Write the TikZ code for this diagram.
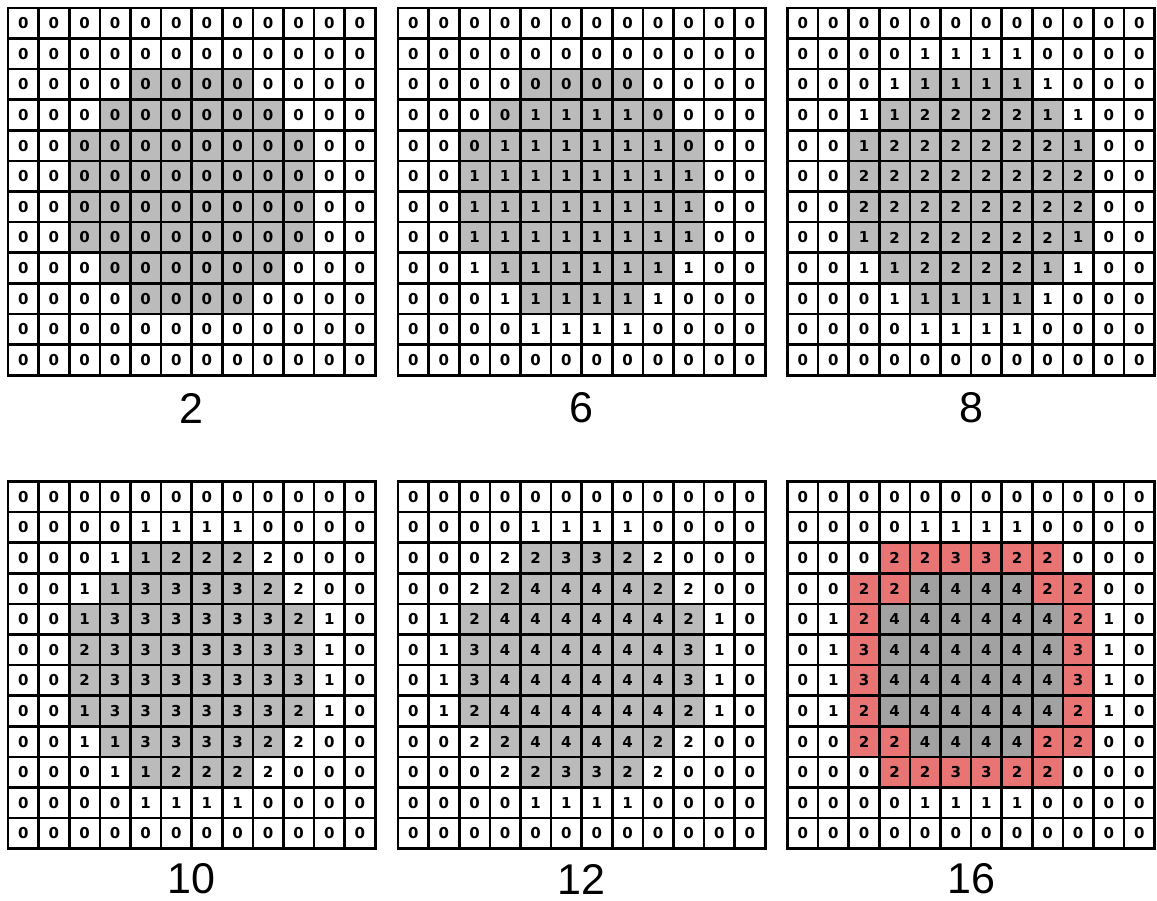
\documentclass[tikz,border=0pt]{standalone}
\usepackage{fontspec}
\setmainfont{Liberation Sans}
\newfontfamily\cellfont{DejaVu Sans}
\definecolor{shade}{HTML}{BBBBBB}
\definecolor{deepshade}{HTML}{A2A2A2}
\definecolor{ring}{HTML}{E87474}

\tikzset{
  cell/.style={draw, line width=2.6pt, minimum size=30.6pt, inner sep=0pt, outer sep=0pt,
    font=\cellfont\bfseries\fontsize{15}{15}\selectfont},
  caption/.style={font=\fontsize{43}{43}\selectfont, inner sep=0pt}
}

% #1 name, #2 x, #3 y, #4 rows, #5 mode (0 = disc mask, 1 = colour by value)
\newcommand{\cellgrid}[5]{%
  \foreach \vals [count=\row from 0] in {#4} {
    \foreach \v [count=\col from 0] in \vals {
      \pgfmathtruncatemacro\lo{{99,99,4,3,2,2,2,2,3,4,99,99}[\row]}
      \pgfmathtruncatemacro\inside{(\col>=\lo)&&(\col<=11-\lo)}
      \ifnum#5=0
        \ifnum\inside=1 \def\cellcol{shade}\else\def\cellcol{white}\fi
      \else
        \ifnum\v=4 \def\cellcol{deepshade}\else
          \ifnum\v>1 \def\cellcol{ring}\else\def\cellcol{white}\fi\fi
      \fi
      \node[cell, fill=\cellcol] (#1-\row-\col) at (#2+30.6*\col+15.3, #3+30.6*\row+15.3) {\v};
    }
  }
}

\begin{document}
\begin{tikzpicture}[x=1pt, y=-1pt]
  \useasboundingbox (0,0) rectangle (1157,901);

  % step 2
  \cellgrid{g1}{8}{8}{
    {0,0,0,0,0,0,0,0,0,0,0,0},
    {0,0,0,0,0,0,0,0,0,0,0,0},
    {0,0,0,0,0,0,0,0,0,0,0,0},
    {0,0,0,0,0,0,0,0,0,0,0,0},
    {0,0,0,0,0,0,0,0,0,0,0,0},
    {0,0,0,0,0,0,0,0,0,0,0,0},
    {0,0,0,0,0,0,0,0,0,0,0,0},
    {0,0,0,0,0,0,0,0,0,0,0,0},
    {0,0,0,0,0,0,0,0,0,0,0,0},
    {0,0,0,0,0,0,0,0,0,0,0,0},
    {0,0,0,0,0,0,0,0,0,0,0,0},
    {0,0,0,0,0,0,0,0,0,0,0,0}}{0}
  \node[caption] (g1-lbl) at (191.6,408) {2};

  % step 6
  \cellgrid{g2}{398}{8}{
    {0,0,0,0,0,0,0,0,0,0,0,0},
    {0,0,0,0,0,0,0,0,0,0,0,0},
    {0,0,0,0,0,0,0,0,0,0,0,0},
    {0,0,0,0,1,1,1,1,0,0,0,0},
    {0,0,0,1,1,1,1,1,1,0,0,0},
    {0,0,1,1,1,1,1,1,1,1,0,0},
    {0,0,1,1,1,1,1,1,1,1,0,0},
    {0,0,1,1,1,1,1,1,1,1,0,0},
    {0,0,1,1,1,1,1,1,1,1,0,0},
    {0,0,0,1,1,1,1,1,1,0,0,0},
    {0,0,0,0,1,1,1,1,0,0,0,0},
    {0,0,0,0,0,0,0,0,0,0,0,0}}{0}
  \node[caption] (g2-lbl) at (581.6,408) {6};

  % step 8
  \cellgrid{g3}{787.5}{8}{
    {0,0,0,0,0,0,0,0,0,0,0,0},
    {0,0,0,0,1,1,1,1,0,0,0,0},
    {0,0,0,1,1,1,1,1,1,0,0,0},
    {0,0,1,1,2,2,2,2,1,1,0,0},
    {0,0,1,2,2,2,2,2,2,1,0,0},
    {0,0,2,2,2,2,2,2,2,2,0,0},
    {0,0,2,2,2,2,2,2,2,2,0,0},
    {0,0,1,2,2,2,2,2,2,1,0,0},
    {0,0,1,1,2,2,2,2,1,1,0,0},
    {0,0,0,1,1,1,1,1,1,0,0,0},
    {0,0,0,0,1,1,1,1,0,0,0,0},
    {0,0,0,0,0,0,0,0,0,0,0,0}}{0}
  \node[caption] (g3-lbl) at (971.1,408) {8};

  % step 10
  \cellgrid{g4}{8}{481.5}{
    {0,0,0,0,0,0,0,0,0,0,0,0},
    {0,0,0,0,1,1,1,1,0,0,0,0},
    {0,0,0,1,1,2,2,2,2,0,0,0},
    {0,0,1,1,3,3,3,3,2,2,0,0},
    {0,0,1,3,3,3,3,3,3,2,1,0},
    {0,0,2,3,3,3,3,3,3,3,1,0},
    {0,0,2,3,3,3,3,3,3,3,1,0},
    {0,0,1,3,3,3,3,3,3,2,1,0},
    {0,0,1,1,3,3,3,3,2,2,0,0},
    {0,0,0,1,1,2,2,2,2,0,0,0},
    {0,0,0,0,1,1,1,1,0,0,0,0},
    {0,0,0,0,0,0,0,0,0,0,0,0}}{0}
  \node[caption] (g4-lbl) at (191.6,879) {10};

  % step 12
  \cellgrid{g5}{398}{481.5}{
    {0,0,0,0,0,0,0,0,0,0,0,0},
    {0,0,0,0,1,1,1,1,0,0,0,0},
    {0,0,0,2,2,3,3,2,2,0,0,0},
    {0,0,2,2,4,4,4,4,2,2,0,0},
    {0,1,2,4,4,4,4,4,4,2,1,0},
    {0,1,3,4,4,4,4,4,4,3,1,0},
    {0,1,3,4,4,4,4,4,4,3,1,0},
    {0,1,2,4,4,4,4,4,4,2,1,0},
    {0,0,2,2,4,4,4,4,2,2,0,0},
    {0,0,0,2,2,3,3,2,2,0,0,0},
    {0,0,0,0,1,1,1,1,0,0,0,0},
    {0,0,0,0,0,0,0,0,0,0,0,0}}{0}
  \node[caption] (g5-lbl) at (581.6,879) {12};

  % step 16
  \cellgrid{g6}{787.5}{481.5}{
    {0,0,0,0,0,0,0,0,0,0,0,0},
    {0,0,0,0,1,1,1,1,0,0,0,0},
    {0,0,0,2,2,3,3,2,2,0,0,0},
    {0,0,2,2,4,4,4,4,2,2,0,0},
    {0,1,2,4,4,4,4,4,4,2,1,0},
    {0,1,3,4,4,4,4,4,4,3,1,0},
    {0,1,3,4,4,4,4,4,4,3,1,0},
    {0,1,2,4,4,4,4,4,4,2,1,0},
    {0,0,2,2,4,4,4,4,2,2,0,0},
    {0,0,0,2,2,3,3,2,2,0,0,0},
    {0,0,0,0,1,1,1,1,0,0,0,0},
    {0,0,0,0,0,0,0,0,0,0,0,0}}{1}
  \node[caption] (g6-lbl) at (971.1,879) {16};
\end{tikzpicture}
\end{document}
